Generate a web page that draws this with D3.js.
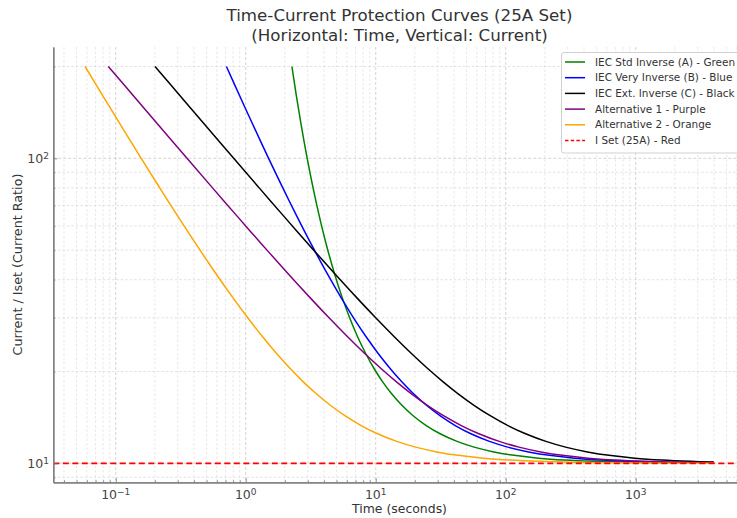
<!DOCTYPE html>
<html>
<head>
<meta charset="utf-8">
<script src="https://cdn.jsdelivr.net/npm/d3@7"></script>
<style>
  html, body { margin: 0; padding: 0; background: #fff; }
  svg { display: block; font-family: "DejaVu Sans", sans-serif; }
</style>
</head>
<body>
<svg id="chart" width="737" height="518"></svg>
<script>
// ---- Data (time in seconds, current ratio) ----
const seriesNames = [
  "IEC Std Inverse (A) - Green",
  "IEC Very Inverse (B) - Blue",
  "IEC Ext. Inverse (C) - Black",
  "Alternative 1 - Purple",
  "Alternative 2 - Orange"
];
const seriesColors = ["#008000", "#0000ff", "#000000", "#800080", "#ffa500"];

const greenCurve = [[2.267,200],[2.455,160],[2.660,130],[2.971,100],[3.297,80],[3.670,65],[4.176,52],[4.808,42],[5.518,35],[6.302,30],[7.256,26],[8.335,23],[9.682,20.5],[11.31,18.5],[13.12,17],[15.90,15.5],[19.50,14.3],[24.48,13.3],[31.30,12.5],[42.22,11.8],[57.20,11.3],[81.16,10.9],[120.1,10.6],[178.4,10.4],[283.4,10.25],[470.1,10.15],[878.5,10.08],[1754,10.04],[4000,10.0175]];
const blueCurve = [[0.7105,200],[0.9,160],[1.125,130],[1.5,100],[1.929,80],[2.455,65],[3.214,52],[4.219,42],[5.4,35],[6.75,30],[8.438,26],[10.38,23],[12.86,20.5],[15.88,18.5],[19.29,17],[24.55,15.5],[31.40,14.3],[40.91,13.3],[54.0,12.5],[75.0,11.8],[103.8,11.3],[150,10.9],[225,10.6],[337.5,10.4],[540,10.25],[900,10.15],[1688,10.08],[4000,10.034]];
const blackCurve = [[0.2005,200],[0.3137,160],[0.4762,130],[0.8081,100],[1.270,80],[1.939,65],[3.072,52],[4.808,42],[7.111,35],[10.0,30],[13.89,26],[18.65,23],[24.98,20.5],[33.02,18.5],[42.33,17],[57.04,15.5],[76.56,14.3],[104.0,13.3],[142.2,12.5],[203.9,11.8],[288.9,11.3],[425.3,10.9],[647.2,10.6],[980.4,10.4],[1580,10.25],[2647,10.15],[4000,10.1]];
const purpleCurve = [[0.0877,200],[0.1373,160],[0.2083,130],[0.3535,100],[0.5556,80],[0.8485,65],[1.344,52],[2.103,42],[3.111,35],[4.375,30],[6.076,26],[8.159,23],[10.93,20.5],[14.45,18.5],[18.52,17],[24.96,15.5],[33.50,14.3],[45.52,13.3],[62.22,12.5],[89.20,11.8],[126.4,11.3],[186.1,10.9],[283.2,10.6],[428.9,10.4],[691.4,10.25],[1158,10.15],[2179,10.08],[4000,10.044]];
const orangeCurve = [[0.0581,200],[0.0798,160],[0.1075,130],[0.1571,100],[0.2181,80],[0.2974,65],[0.4186,52],[0.5870,42],[0.7934,35],[1.037,30],[1.349,26],[1.715,23],[2.188,20.5],[2.774,18.5],[3.439,17],[4.475,15.5],[5.832,14.3],[7.724,13.3],[10.34,12.5],[14.53,11.8],[20.31,11.3],[29.56,10.9],[44.59,10.6],[67.14,10.4],[107.8,10.25],[179.9,10.15],[337.9,10.08],[676.2,10.04],[1353,10.02],[4000,10.007]];
const curves = [greenCurve, blueCurve, blackCurve, purpleCurve, orangeCurve];

const iSetValue = 10;
const iSetLabel = "I Set (25A) - Red";
const iSetColor = "#ff0000";

const xMajorTicks = [0.1, 1, 10, 100, 1000];
const xMajorExp = ["\u22121", "0", "1", "2", "3"];
const yMajorTicks = [10, 100];
const yMajorExp = ["1", "2"];
const xDomain = [0.0331, 7080];
const yDomain = [8.666, 231.7];

const titleLines = ["Time-Current Protection Curves (25A Set)", "(Horizontal: Time, Vertical: Current)"];
const xLabel = "Time (seconds)";
const yLabel = "Current / Iset (Current Ratio)";

// ---- Layout ----
const svg = d3.select("#chart");
const plot = { left: 53.3, right: 746.2, top: 47, bottom: 482.3 };

const x = d3.scaleLog().domain(xDomain).range([plot.left, plot.right]);
const y = d3.scaleLog().domain(yDomain).range([plot.bottom, plot.top]);

function minorTicks(domain, majors) {
  const out = [];
  for (let e = -3; e <= 4; e++) {
    for (let k = 1; k <= 9; k++) {
      const v = k * Math.pow(10, e);
      if (v >= domain[0] && v <= domain[1] && !majors.some(m => Math.abs(m - v) / v < 1e-9)) out.push(v);
    }
  }
  return out;
}
const xMinor = minorTicks(xDomain, xMajorTicks);
const yMinor = minorTicks(yDomain, yMajorTicks);

// ---- Grid ----
const grid = svg.append("g");
grid.selectAll(".xminor").data(xMinor).join("line")
  .attr("x1", d => x(d)).attr("x2", d => x(d))
  .attr("y1", plot.top).attr("y2", plot.bottom)
  .attr("stroke", "#dedede").attr("stroke-width", 0.7).attr("stroke-dasharray", "2.5,2");
grid.selectAll(".yminor").data(yMinor).join("line")
  .attr("y1", d => y(d)).attr("y2", d => y(d))
  .attr("x1", plot.left).attr("x2", plot.right)
  .attr("stroke", "#d6d6d6").attr("stroke-width", 0.7).attr("stroke-dasharray", "2.5,2");
grid.selectAll(".xmajor").data(xMajorTicks).join("line")
  .attr("x1", d => x(d)).attr("x2", d => x(d))
  .attr("y1", plot.top).attr("y2", plot.bottom)
  .attr("stroke", "#cacaca").attr("stroke-width", 0.8).attr("stroke-dasharray", "3,2");
grid.selectAll(".ymajor").data(yMajorTicks).join("line")
  .attr("y1", d => y(d)).attr("y2", d => y(d))
  .attr("x1", plot.left).attr("x2", plot.right)
  .attr("stroke", "#cacaca").attr("stroke-width", 0.8).attr("stroke-dasharray", "3,2");

// ---- Curves ----
const line = d3.line()
  .x(d => x(d[0])).y(d => y(d[1]))
  .curve(d3.curveCatmullRom.alpha(0.5));
const linesG = svg.append("g");
curves.forEach((c, i) => {
  linesG.append("path").datum(c)
    .attr("d", line)
    .attr("fill", "none")
    .attr("stroke", seriesColors[i])
    .attr("stroke-width", 1.5)
    .attr("stroke-linejoin", "round");
});
linesG.append("line")
  .attr("x1", plot.left).attr("x2", plot.right)
  .attr("y1", y(iSetValue)).attr("y2", y(iSetValue))
  .attr("stroke", iSetColor).attr("stroke-width", 1.6)
  .attr("stroke-dasharray", "6,3.5");

// ---- Axes ----
const axisColor = "#7f7f7f";
const xAxisMajor = d3.axisBottom(x).tickValues(xMajorTicks).tickSizeInner(-4).tickSizeOuter(0).tickFormat("");
const xAxisMinor = d3.axisBottom(x).tickValues(xMinor).tickSizeInner(-2).tickSizeOuter(0).tickFormat("");
const yAxisMajor = d3.axisLeft(y).tickValues(yMajorTicks).tickSizeInner(-4).tickSizeOuter(0).tickFormat("");
const yAxisMinor = d3.axisLeft(y).tickValues(yMinor).tickSizeInner(-2).tickSizeOuter(0).tickFormat("");

function styleAxis(g) {
  g.select(".domain").attr("stroke", axisColor).attr("stroke-width", 1.3);
  g.selectAll(".tick line").attr("stroke", axisColor).attr("stroke-width", 0.9);
}
svg.append("g").attr("transform", `translate(0,${plot.bottom})`).call(xAxisMinor).call(styleAxis);
svg.append("g").attr("transform", `translate(0,${plot.bottom})`).call(xAxisMajor).call(styleAxis);
svg.append("g").attr("transform", `translate(${plot.left},0)`).call(yAxisMinor).call(styleAxis);
svg.append("g").attr("transform", `translate(${plot.left},0)`).call(yAxisMajor).call(styleAxis);

// tick labels with superscripts
const tickColor = "#444";
const xLab = svg.append("g");
xMajorTicks.forEach((v, i) => {
  const t = xLab.append("text")
    .attr("x", x(v)).attr("y", 499)
    .attr("text-anchor", "middle")
    .attr("fill", tickColor).attr("font-size", 12.5);
  t.append("tspan").text("10");
  t.append("tspan").attr("dy", "-0.45em").attr("font-size", 9).text(xMajorExp[i]);
});
const yLab = svg.append("g");
yMajorTicks.forEach((v, i) => {
  const t = yLab.append("text")
    .attr("x", 49).attr("y", y(v) + 4.5)
    .attr("text-anchor", "end")
    .attr("fill", tickColor).attr("font-size", 12.5);
  t.append("tspan").text("10");
  t.append("tspan").attr("dy", "-0.45em").attr("font-size", 9).text(yMajorExp[i]);
});

// ---- Text fitting helper ----
function fitWidth(sel, target) {
  const fs = parseFloat(sel.attr("font-size"));
  const w = sel.node().getComputedTextLength();
  if (w > 0) sel.attr("font-size", (fs * target / w).toFixed(2));
}

// Titles
const t1 = svg.append("text").attr("x", 399.5).attr("y", 21).attr("text-anchor", "middle")
  .attr("fill", "#333").attr("font-size", 15).text(titleLines[0]);
fitWidth(t1, 346);
const t2 = svg.append("text").attr("x", 399.5).attr("y", 40.5).attr("text-anchor", "middle")
  .attr("fill", "#333").attr("font-size", 15).text(titleLines[1]);
t2.attr("font-size", t1.attr("font-size"));

// Axis labels
const xl = svg.append("text").attr("x", 399.5).attr("y", 513).attr("text-anchor", "middle")
  .attr("fill", "#333").attr("font-size", 12).text(xLabel);
fitWidth(xl, 95);
const yl = svg.append("text").attr("transform", "translate(22,264.5) rotate(-90)")
  .attr("text-anchor", "middle").attr("fill", "#333").attr("font-size", 12).text(yLabel);
fitWidth(yl, 182);

// ---- Legend ----
const legend = svg.append("g");
legend.append("rect")
  .attr("x", 561.5).attr("y", 52.5).attr("width", 190).attr("height", 100.5)
  .attr("rx", 2.5)
  .attr("fill", "#fff").attr("fill-opacity", 0.85)
  .attr("stroke", "#cccccc").attr("stroke-width", 0.9);
const legendItems = seriesNames.map((n, i) => ({ name: n, color: seriesColors[i], dash: null }))
  .concat([{ name: iSetLabel, color: iSetColor, dash: "3.5,2.2" }]);
let legendFont = 10;
legendItems.forEach((d, i) => {
  const yy = 62 + i * 15.7;
  legend.append("line")
    .attr("x1", 565).attr("x2", 585).attr("y1", yy).attr("y2", yy)
    .attr("stroke", d.color).attr("stroke-width", 1.5)
    .attr("stroke-dasharray", d.dash);
  const t = legend.append("text")
    .attr("x", 595).attr("y", yy + 3.6)
    .attr("fill", "#333").attr("font-size", legendFont).text(d.name);
  if (i === 0) { fitWidth(t, 140); legendFont = parseFloat(t.attr("font-size")); }
});
</script>
</body>
</html>
